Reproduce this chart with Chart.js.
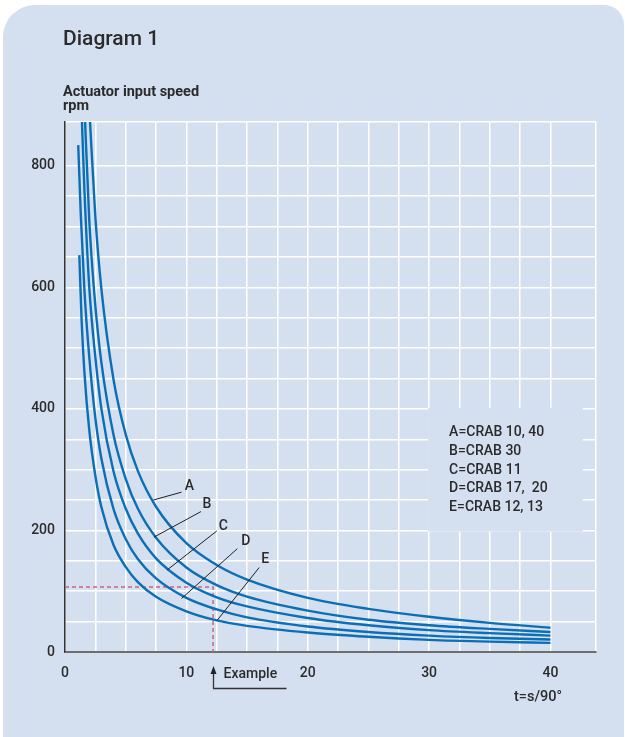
<!DOCTYPE html>
<html>
<head>
<meta charset="utf-8">
<script src="https://cdn.jsdelivr.net/npm/chart.js@4.4.1/dist/chart.umd.min.js"></script>
<style>
  html, body { margin: 0; padding: 0; background: #fff; }
  #wrap { position: relative; width: 625px; height: 737px; }
</style>
</head>
<body>
<div id="wrap"><canvas id="myChart"></canvas></div>
<script>
// time per 90 degrees (s) and actuator input speed (rpm)
const tA   = [2.0, 2.5, 3, 4, 5, 6, 7.5, 10, 12.5, 15, 20, 25, 30, 35, 40];
const rpmA = [895, 716, 597, 448, 358, 298, 239, 179, 143, 119, 89, 71, 58, 48, 40];

const tB   = [1.6, 2, 2.5, 3, 4, 5, 6, 7.5, 10, 12.5, 15, 20, 25, 30, 35, 40];
const rpmB = [900, 710, 570, 476, 357, 285, 236, 188, 139, 110, 91, 68, 53, 44, 38, 33];

const tC   = [1.35, 1.6, 2, 2.5, 3, 4, 5, 6, 7.5, 10, 12.5, 15, 20, 25, 30, 35, 40];
const rpmC = [900, 760, 600, 485, 400, 297, 236, 195, 154, 114, 90, 75, 56, 44, 36, 31, 27];

const tD   = [1.09, 1.3, 1.6, 2, 2.5, 3, 4, 5, 6, 7.5, 10, 12.5, 15, 20, 25, 30, 35, 40];
const rpmD = [834, 720, 595, 485, 385, 318, 235, 186, 153, 121, 89, 70, 57, 42, 33, 27, 23, 20.5];

const tE   = [1.18, 1.37, 1.6, 2, 2.5, 3, 4, 5, 6, 7.5, 10, 12.5, 15, 20, 25, 30, 35, 40];
const rpmE = [653, 545, 460, 365, 290, 238, 176, 140, 115, 91, 67, 52, 43, 32, 25, 20, 17, 15];

const curveNames = ['A', 'B', 'C', 'D', 'E'];
const legendLines = ['A=CRAB 10, 40', 'B=CRAB 30', 'C=CRAB 11', 'D=CRAB 17,  20', 'E=CRAB 12, 13'];
const exampleT = 12.2;
const exampleRpm = 107;

const xMax = 43.75;
const yMax = 872;

const FONT = 'Roboto, "Noto Sans", sans-serif';
const TEXT = '#2b2b2b';
const BLUE = '#0b6fb8';
const PANEL = '#d4dff0';

function pts(xs, ys) {
  return xs.map((x, i) => ({ x: x, y: ys[i] }));
}

// where the leader lines of the curve letters sit (data units)
const labelSpots = [
  { from: [7.27, 250], to: [9.6, 263], text: [10.25, 273] },
  { from: [7.33, 189], to: [11.2, 231], text: [11.7, 242] },
  { from: [8.42, 135], to: [12.5, 199], text: [13.05, 207] },
  { from: [9.6, 88],   to: [14.2, 170], text: [14.9, 181] },
  { from: [12.53, 52], to: [16.0, 139], text: [16.5, 152] }
];

const panel = {
  id: 'panel',
  beforeDraw(chart) {
    const { ctx } = chart;
    ctx.save();
    ctx.fillStyle = '#fff';
    ctx.fillRect(0, 0, 625, 737);
    ctx.fillStyle = PANEL;
    ctx.beginPath();
    ctx.roundRect(3, 5, 621, 760, [32, 20, 0, 0]);
    ctx.fill();

    ctx.fillStyle = TEXT;
    ctx.textAlign = 'left';
    ctx.textBaseline = 'alphabetic';
    ctx.font = '500 21px ' + FONT;
    ctx.fillText('Diagram 1', 63, 45);
    ctx.font = 'bold 14.5px ' + FONT;
    ctx.fillText('Actuator input speed', 63, 96);
    ctx.fillText('rpm', 63, 110);
    ctx.restore();
  },
  beforeDatasetsDraw(chart) {
    const { ctx, scales: { x, y } } = chart;
    ctx.save();
    // legend box hides the grid
    const bx0 = x.getPixelForValue(30) - 1, bx1 = x.getPixelForValue(42.5) + 2;
    const by0 = y.getPixelForValue(400) - 1, by1 = y.getPixelForValue(200) + 1;
    ctx.fillStyle = PANEL;
    ctx.fillRect(bx0, by0, bx1 - bx0, by1 - by0);
    ctx.fillStyle = TEXT;
    ctx.font = '500 14px ' + FONT;
    ctx.textBaseline = 'middle';
    legendLines.forEach((s, i) => ctx.fillText(s, bx0 + 21, by0 + 25 + i * 18.6));

    // example dashed guide
    const ex = x.getPixelForValue(exampleT), ey = y.getPixelForValue(exampleRpm);
    ctx.strokeStyle = '#d0637f';
    ctx.lineWidth = 1.5;
    ctx.setLineDash([4, 3]);
    ctx.beginPath();
    ctx.moveTo(x.getPixelForValue(0), ey);
    ctx.lineTo(ex, ey);
    ctx.lineTo(ex, y.getPixelForValue(0));
    ctx.stroke();
    ctx.restore();
  },
  afterDraw(chart) {
    const { ctx, scales: { x, y } } = chart;
    ctx.save();
    ctx.strokeStyle = '#222';
    ctx.fillStyle = TEXT;
    ctx.lineWidth = 1;
    ctx.font = '500 14px ' + FONT;
    ctx.textAlign = 'center';
    ctx.textBaseline = 'middle';
    labelSpots.forEach((s, i) => {
      ctx.beginPath();
      ctx.moveTo(x.getPixelForValue(s.from[0]), y.getPixelForValue(s.from[1]));
      ctx.lineTo(x.getPixelForValue(s.to[0]), y.getPixelForValue(s.to[1]));
      ctx.stroke();
      ctx.fillText(curveNames[i], x.getPixelForValue(s.text[0]), y.getPixelForValue(s.text[1]));
    });

    // "Example" arrow under the axis
    const ex = Math.round(x.getPixelForValue(exampleT)) + 0.5;
    ctx.strokeStyle = '#333';
    ctx.lineWidth = 1.3;
    ctx.beginPath();
    ctx.moveTo(ex, 671);
    ctx.lineTo(ex, 688.5);
    ctx.lineTo(ex + 73, 688.5);
    ctx.stroke();
    ctx.fillStyle = '#222';
    ctx.beginPath();
    ctx.moveTo(ex, 666);
    ctx.lineTo(ex - 3, 674);
    ctx.lineTo(ex + 3, 674);
    ctx.closePath();
    ctx.fill();
    ctx.fillStyle = TEXT;
    ctx.textAlign = 'left';
    ctx.font = '500 14px ' + FONT;
    ctx.fillText('Example', ex + 10, 674);
    ctx.font = '500 14.5px ' + FONT;
    ctx.fillText('t=s/90°', 514, 697);
    ctx.restore();
  }
};

const series = [[tA, rpmA], [tB, rpmB], [tC, rpmC], [tD, rpmD], [tE, rpmE]];

new Chart(document.getElementById('myChart'), {
  type: 'line',
  data: {
    datasets: series.map((s, i) => ({
      label: curveNames[i],
      data: pts(s[0], s[1]),
      borderColor: BLUE,
      borderWidth: 2.4,
      pointRadius: 0,
      fill: false,
      cubicInterpolationMode: 'monotone'
    }))
  },
  options: {
    responsive: true,
    maintainAspectRatio: false,
    animation: false,
    layout: { padding: { left: 0, top: 122, right: 29, bottom: 0 } },
    plugins: { legend: { display: false }, tooltip: { enabled: false } },
    scales: {
      x: {
        type: 'linear',
        min: 0,
        max: xMax,
        afterFit(scale) { scale.height = 85; },
        grid: { color: '#fff', lineWidth: 1.5, drawTicks: false },
        border: { display: true, color: '#6e6e6e', width: 2 },
        ticks: {
          stepSize: 2.5,
          autoSkip: false,
          maxRotation: 0,
          padding: 13,
          color: TEXT,
          font: { size: 14, weight: '500', family: FONT },
          callback: v => (v % 10 === 0 ? v : '')
        }
      },
      y: {
        min: 0,
        max: yMax,
        afterFit(scale) { scale.width = 65; },
        grid: { color: '#fff', lineWidth: 1.5, drawTicks: false },
        border: { display: true, color: '#333', width: 1.5 },
        ticks: {
          stepSize: 50,
          autoSkip: false,
          padding: 10,
          color: TEXT,
          font: { size: 14, weight: '500', family: FONT },
          callback: v => (v % 200 === 0 ? v : '')
        }
      }
    }
  },
  plugins: [panel]
});
</script>
</body>
</html>
